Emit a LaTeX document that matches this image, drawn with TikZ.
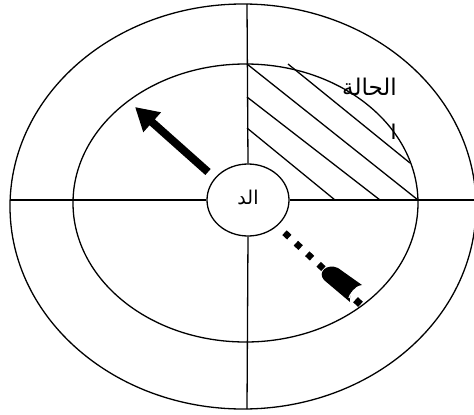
\documentclass[tikz,border=0pt]{standalone}
\usepackage{fontspec}
\newfontfamily\arabicfont[Script=Arabic]{DejaVu Sans}
\TeXXeTstate=1
\usetikzlibrary{arrows.meta,shapes.geometric}
\tikzset{
  thin line/.style={line width=1.3pt, black},
  hatchline/.style={line width=1.3pt, black},
  bigarrow/.style={line width=8pt, -{Triangle[length=23pt,width=25pt]}},
  dotline/.style={line width=6.5pt, dash pattern=on 6.5pt off 9pt},
  hub/.style={ellipse, draw, line width=1.3pt, minimum width=82pt, minimum height=72pt, inner sep=0pt, fill=white},
  artext/.style={inner sep=0pt, font=\arabicfont}
}
\begin{document}
\begin{tikzpicture}[x=1pt,y=-1pt]
\useasboundingbox (0,0) rectangle (474,415);
% ellipses
\draw[thin line] (243,206.5) ellipse [x radius=233, y radius=202.5];
\draw[thin line] (245.5,203) ellipse [x radius=172.5, y radius=139];
% hatch
\coordinate (h1a) at (247,64);  \coordinate (h1b) at (418,200);
\coordinate (h2a) at (247,97);  \coordinate (h2b) at (380,200);
\coordinate (h3a) at (247,128); \coordinate (h3b) at (335,200);
\coordinate (h4a) at (288,64);  \coordinate (h4b) at (410,163);
\draw[hatchline] (h1a) -- (h1b);
\draw[hatchline] (h2a) -- (h2b);
\draw[hatchline] (h3a) -- (h3b);
\draw[hatchline] (h4a) -- (h4b);
% hub
\node[hub] (hub) at (248,200) {};
\node[artext, font=\arabicfont\fontsize{19}{21}\selectfont, anchor=base] (hubtext) at (248,204) {\beginR الد\endR};
% axes
\coordinate (top) at (247,4);
\coordinate (bot) at (247,409);
\coordinate (lft) at (10,200);
\coordinate (rgt) at (474,200);
\draw[thin line] (top) -- (hub.north);
\draw[thin line] (hub.south) -- (bot);
\draw[thin line] (lft) -- (hub.west);
\draw[thin line] (hub.east) -- (rgt);
% arrow
\coordinate (as) at (208,172);
\coordinate (ae) at (135,107);
\draw[bigarrow] (as) -- (ae);
% dotted line and cylinder
\coordinate (ds) at (284.5,232.7);
\coordinate (de) at (327,272);
\draw[dotline] (ds) -- (de);
\fill (324,280) .. controls (317,272) and (327,263) .. (338,268) -- (362,285)
      .. controls (354,286) and (349,293) .. (350,302) -- cycle;
\draw[white, line width=1.2pt] (349,298) .. controls (350,294) and (353,291) .. (357,290);
\coordinate (fa) at (355.5,299.7);
\coordinate (fb) at (360.5,304.3);
\draw[line width=7pt] (fa) -- (fb);
% labels
\node[artext, font=\arabicfont\fontsize{23}{26}\selectfont, anchor=base east] (state) at (397,95) {\beginR الحالة\endR};
\begin{scope}
\clip (390.5,118) rectangle (400,138);
\node[artext, font=\arabicfont\fontsize{23}{26}\selectfont, anchor=base east] (state2) at (397,141) {\beginR ال\endR};
\end{scope}
\end{tikzpicture}
\end{document}
